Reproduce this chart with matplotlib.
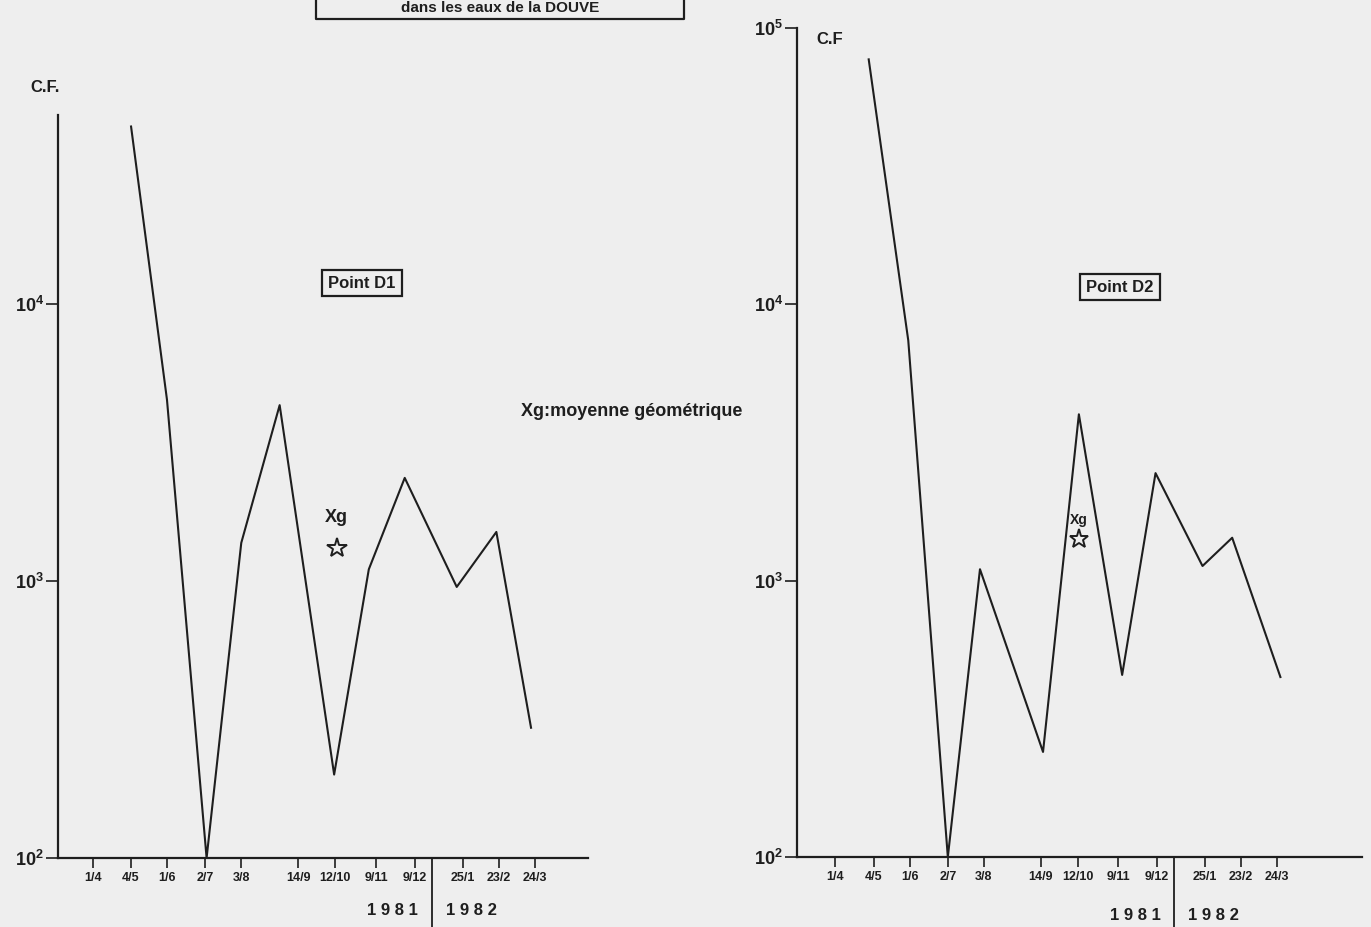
import matplotlib
matplotlib.use("Agg")
from matplotlib import pyplot as plt
from matplotlib.lines import Line2D
from datetime import datetime as dt

# dates des prelevements (position sur l'axe des x)
tick_dates = [dt(1981, 4, 1), dt(1981, 5, 2), dt(1981, 5, 31), dt(1981, 7, 1), dt(1981, 7, 30),
              dt(1981, 9, 14), dt(1981, 10, 14), dt(1981, 11, 16), dt(1981, 12, 17),
              dt(1982, 1, 25), dt(1982, 2, 23), dt(1982, 3, 24)]
tick_labels = ["1/4", "4/5", "1/6", "2/7", "3/8", "14/9", "12/10", "9/11", "9/12",
               "25/1", "23/2", "24/3"]

# point D1 (pas de valeur le 1/4)
d1_dates = [dt(1981, 5, 2), dt(1981, 5, 31), dt(1981, 7, 2), dt(1981, 7, 30), dt(1981, 8, 30),
            dt(1981, 10, 13), dt(1981, 11, 10), dt(1981, 12, 9), dt(1982, 1, 20),
            dt(1982, 2, 21), dt(1982, 3, 21)]
d1_cf = [43500, 4500, 100, 1370, 4300, 200, 1100, 2350, 950, 1500, 295]
d1_xg = 1310

# point D2
d2_dates = [dt(1981, 4, 28), dt(1981, 5, 30), dt(1981, 7, 1), dt(1981, 7, 27), dt(1981, 9, 16),
            dt(1981, 10, 15), dt(1981, 11, 19), dt(1981, 12, 16), dt(1982, 1, 23),
            dt(1982, 2, 16), dt(1982, 3, 27)]
d2_cf = [77000, 7400, 100, 1100, 240, 4000, 456, 2450, 1130, 1430, 448]
d2_xg = 1410

xg_date = dt(1981, 10, 15)
year_split = dt(1981, 12, 31)

ink = "#1e1e1e"
paper = "#eeeeee"
plt.rcParams['font.family'] = ['Liberation Sans', 'DejaVu Sans']
plt.rcParams['mathtext.fontset'] = 'custom'
plt.rcParams['mathtext.bf'] = 'Liberation Sans:bold'

fig = plt.figure(figsize=(13.71, 9.27), dpi=100, facecolor=paper)
ax1 = fig.add_axes([58/1371, 69/927, 530/1371, 743/927])
ax2 = fig.add_axes([797/1371, 70/927, 565/1371, 829/927])


def style(ax, x0, x1, ytop, yticks, ylabs):
    ax.set_facecolor(paper)
    ax.set_yscale("log")
    ax.set_ylim(100, ytop)
    ax.set_xlim(x0, x1)
    for s in ["top", "right"]:
        ax.spines[s].set_visible(False)
    for s in ["left", "bottom"]:
        ax.spines[s].set_color(ink)
        ax.spines[s].set_linewidth(1.6)
    ax.set_xticks(tick_dates)
    ax.set_xticklabels(tick_labels, fontsize=9, fontweight="bold", color=ink)
    ax.set_yticks(yticks)
    ax.set_yticklabels(ylabs, fontsize=13, color=ink)
    ax.yaxis.set_minor_locator(matplotlib.ticker.NullLocator())
    ax.xaxis.set_minor_locator(matplotlib.ticker.NullLocator())
    ax.tick_params(axis="x", direction="out", length=7, width=1.2, color=ink, pad=3)
    ax.tick_params(axis="y", direction="out", length=9, width=1.2, color=ink, pad=1)
    # separation des annees
    tr = ax.get_xaxis_transform()
    ax.plot([year_split, year_split], [0, -0.095], transform=tr, color=ink, lw=1.3, clip_on=False)
    ax.text(dt(1981, 12, 20), -0.07, "1 9 8 1", transform=tr, ha="right", va="center",
            fontsize=12, fontweight="bold", color=ink)
    ax.text(dt(1982, 1, 11), -0.07, "1 9 8 2", transform=tr, ha="left", va="center",
            fontsize=12, fontweight="bold", color=ink)


style(ax1, dt(1981, 3, 4), dt(1982, 5, 6), 10 ** 4.68, [100, 1000, 10000],
      [r"$\mathbf{10^2}$", r"$\mathbf{10^3}$", r"$\mathbf{10^4}$"])
style(ax2, dt(1981, 3, 1), dt(1982, 6, 1), 100000, [100, 1000, 10000, 100000],
      [r"$\mathbf{10^2}$", r"$\mathbf{10^3}$", r"$\mathbf{10^4}$", r"$\mathbf{10^5}$"])

ax1.plot(d1_dates, d1_cf, color=ink, lw=1.5)
ax2.plot(d2_dates, d2_cf, color=ink, lw=1.5)

ax1.plot([xg_date], [d1_xg], marker="*", ms=15, mfc="none", mec=ink, mew=1.4)
ax2.plot([xg_date], [d2_xg], marker="*", ms=14, mfc="none", mec=ink, mew=1.4)
ax1.annotate("Xg", (xg_date, d1_xg), xytext=(0, 22), textcoords="offset points",
             ha="center", va="center", fontsize=13, fontweight="bold", color=ink)
ax2.annotate("Xg", (xg_date, d2_xg), xytext=(0, 14), textcoords="offset points",
             ha="center", va="center", fontsize=10, fontweight="bold", color=ink)

box = dict(boxstyle="square,pad=0.35", fc=paper, ec=ink, lw=1.6)
fig.text(362/1371, 1 - 283/927, "Point D1", fontsize=12, fontweight="bold", color=ink,
         ha="center", va="center", bbox=box)
fig.text(1120/1371, 1 - 287/927, "Point D2", fontsize=12, fontweight="bold", color=ink,
         ha="center", va="center", bbox=box)
fig.text(632/1371, 1 - 411/927, "Xg:moyenne géométrique", fontsize=13, fontweight="bold",
         color=ink, ha="center", va="center")
fig.text(45/1371, 1 - 88/927, "C.F.", fontsize=12, fontweight="bold", color=ink,
         ha="center", va="center")
fig.text(830/1371, 1 - 40/927, "C.F", fontsize=12, fontweight="bold", color=ink,
         ha="center", va="center")

# titre en haut (coupe dans l'original)
fig.text(500/1371, 1 - 8/927, "dans les eaux de la DOUVE", fontsize=11, fontweight="bold",
         color=ink, ha="center", va="center")
x0, x1, yb = 316/1371, 684/1371, 1 - 19/927
fig.add_artist(Line2D([x0, x0, x1, x1], [1, yb, yb, 1], color=ink, lw=1.6))

fig.savefig("out.png", dpi=100, facecolor=paper)
